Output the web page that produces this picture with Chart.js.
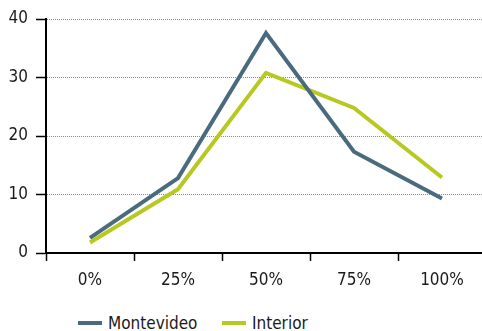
<!DOCTYPE html>
<html>
<head>
<meta charset="utf-8">
<script src="https://cdn.jsdelivr.net/npm/chart.js@4.4.1/dist/chart.umd.min.js"></script>
<style>
  html, body { margin: 0; padding: 0; background: #fff; overflow: hidden; }
  #wrap { position: relative; width: 490px; height: 300px; }
  .legend { position: absolute; top: 313px; left: 0; width: 482px; height: 22px;
            font-family: "Liberation Sans Narrow", "DejaVu Sans Condensed", sans-serif;
            font-size: 17px; color: #1a1a1a; }
  .legend .item { position: absolute; top: 0; display: flex; align-items: center; }
  .legend .swatch { width: 24px; height: 4px; margin-right: 6px; }
</style>
</head>
<body>
<div id="wrap"><canvas id="chart"></canvas></div>
<div class="legend" id="legend"></div>
<script>
// categories and series
const categories = ['0%', '25%', '50%', '75%', '100%'];
const montevideo = [2.6, 12.8, 37.6, 17.3, 9.3];
const interior = [1.8, 10.9, 30.8, 24.8, 12.9];
const yTicks = [0, 10, 20, 30, 40];

const seriesNames = ['Montevideo', 'Interior'];
const seriesColors = ['#4a6b7e', '#b7c821'];
const legendLeft = [78, 222];

const font = { family: '"Liberation Sans Narrow", "DejaVu Sans Condensed", sans-serif', size: 17 };

document.addEventListener('DOMContentLoaded', function() {
    const ctx = document.getElementById('chart').getContext('2d');
    new Chart(ctx, {
        type: 'line',
        data: {
            labels: categories,
            datasets: [montevideo, interior].map((d, i) => ({
                label: seriesNames[i],
                data: d,
                borderColor: seriesColors[i],
                backgroundColor: seriesColors[i],
                borderWidth: 4,
                pointRadius: 0,
                tension: 0,
                fill: false
            }))
        },
        options: {
            responsive: true,
            maintainAspectRatio: false,
            animation: false,
            layout: { padding: { top: 19, right: 4 } },
            plugins: {
                legend: { display: false },
                tooltip: { enabled: false }
            },
            scales: {
                x: {
                    offset: true,
                    grid: {
                        offset: true,
                        drawOnChartArea: false,
                        drawTicks: true,
                        tickLength: 8,
                        tickColor: '#000',
                        tickWidth: 1.5
                    },
                    border: { color: '#000', width: 2 },
                    ticks: { color: '#1a1a1a', font: font, padding: 9 },
                    afterFit: (scale) => { scale.height = 47; }
                },
                y: {
                    min: 0,
                    max: 40,
                    afterBuildTicks: (scale) => { scale.ticks = yTicks.map(v => ({ value: v })); },
                    grid: {
                        color: (c) => c.tick && c.tick.value === 0 ? 'rgba(0,0,0,0)' : '#8a8a8a',
                        lineWidth: 1,
                        tickLength: 10,
                        tickColor: '#000',
                        tickWidth: 1.5
                    },
                    border: { color: '#000', width: 2, dash: [1, 1] },
                    ticks: { color: '#1a1a1a', font: font, padding: 8 },
                    afterFit: (scale) => { scale.width = 46; }
                }
            }
        }
    });

    // legend as html text
    const legend = document.getElementById('legend');
    seriesNames.forEach((name, i) => {
        const item = document.createElement('div');
        item.className = 'item';
        item.style.left = legendLeft[i] + 'px';
        const sw = document.createElement('span');
        sw.className = 'swatch';
        sw.style.background = seriesColors[i];
        item.appendChild(sw);
        item.appendChild(document.createTextNode(name));
        legend.appendChild(item);
    });
});
</script>
</body>
</html>
